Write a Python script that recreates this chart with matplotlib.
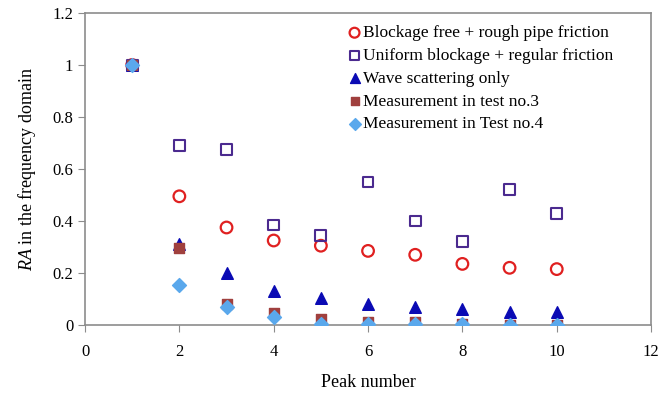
import matplotlib
matplotlib.use("Agg")
import matplotlib.pyplot as plt

peaks = [1, 2, 3, 4, 5, 6, 7, 8, 9, 10]
blockage_free = [1.0, 0.495, 0.375, 0.325, 0.305, 0.285, 0.27, 0.235, 0.22, 0.215]
uniform_blockage = [1.0, 0.69, 0.675, 0.385, 0.345, 0.55, 0.40, 0.32, 0.52, 0.43]
wave_scattering = [1.0, 0.31, 0.20, 0.13, 0.105, 0.08, 0.07, 0.06, 0.05, 0.05]
test3 = [1.0, 0.295, 0.08, 0.045, 0.025, 0.01, 0.01, 0.005, 0.0, 0.0]
test4 = [1.0, 0.155, 0.07, 0.03, 0.005, 0.005, 0.005, 0.003, 0.0, 0.0]

AXIS = "#8c8c8c"
plt.rcParams["font.family"] = ["Liberation Serif", "DejaVu Serif"]
plt.rcParams["mathtext.fontset"] = "custom"
plt.rcParams["mathtext.it"] = "Liberation Serif:italic"
plt.rcParams["mathtext.rm"] = "Liberation Serif"

fig = plt.figure(figsize=(6.59, 3.93), dpi=100)
ax = fig.add_axes([0.129, 0.173, 0.859, 0.794])

ax.scatter(peaks, blockage_free, marker="o", s=70, facecolor="none", edgecolor="#e02020",
           linewidth=1.6, label="Blockage free + rough pipe friction", zorder=3)
ax.scatter(peaks, uniform_blockage, marker="s", s=60, facecolor="none", edgecolor="#4b2a8f",
           linewidth=1.5, label="Uniform blockage + regular friction", zorder=3)
ax.scatter(peaks, wave_scattering, marker="^", s=70, color="#0a0ab4",
           label="Wave scattering only", zorder=3)
ax.scatter(peaks, test3, marker="s", s=55, color="#a0403e",
           label="Measurement in test no.3", zorder=4)
ax.scatter(peaks, test4, marker="D", s=50, color="#5aa8ec",
           label="Measurement in Test no.4", zorder=5)

ax.set_xlim(0, 12)
ax.set_ylim(0, 1.2)
ax.set_xticks([0, 2, 4, 6, 8, 10, 12])
ax.set_yticks([0, 0.2, 0.4, 0.6, 0.8, 1.0, 1.2])
ax.set_yticklabels(["0", "0.2", "0.4", "0.6", "0.8", "1", "1.2"])
ax.tick_params(colors=AXIS, labelcolor="black", labelsize=12, direction="out", length=5)
ax.tick_params(axis="x", pad=9)
for s in ax.spines.values():
    s.set_color(AXIS)
    s.set_linewidth(1.2)

ax.set_xlabel("Peak number", fontsize=13, labelpad=10)
ax.set_ylabel("$RA$ in the frequency domain", fontsize=13, labelpad=10)

ax.legend(loc="upper right", bbox_to_anchor=(0.955, 1.0), frameon=False, fontsize=12.5,
          handletextpad=0.0, handlelength=1.0, labelspacing=0.38, borderaxespad=0.3,
          markerscale=0.85)

fig.savefig("out.png", dpi=100)
